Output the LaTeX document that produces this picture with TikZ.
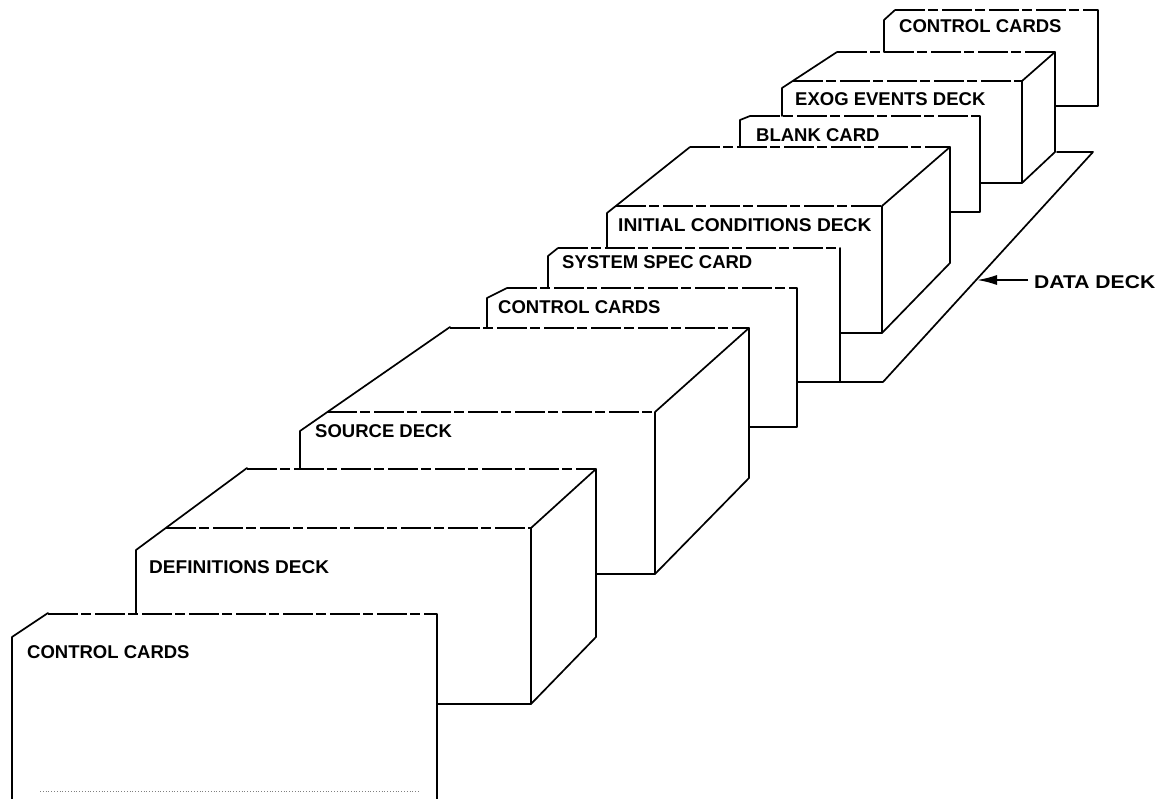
\documentclass[tikz,border=0pt]{standalone}
\usepackage{fontspec}
\setmainfont{Liberation Sans}
\usetikzlibrary{arrows.meta}
\begin{document}
\begin{tikzpicture}[x=1pt,y=-1pt,
  edge/.style={line width=1.7pt, line join=round, line cap=round},
  broken/.style={line width=1.4pt, dash pattern=on 30pt off 3pt on 10pt off 4pt},
  lbl/.style={anchor=west, inner sep=0pt, font=\fontsize{18.5}{18.5}\selectfont\bfseries}]
\useasboundingbox (0,0) rectangle (1165,799);

% front control cards
\draw[edge] (12,799) -- (12,637) -- (48,613);
\draw[broken] (48,614) -- (437,614);
\draw[edge] (437,614) -- (437,799);
\draw[gray, dotted, line width=0.8pt] (40,791) -- (420,791);
\node[lbl] (cc1) at (27,652) {CONTROL CARDS};

% definitions deck
\draw[edge] (136,614) -- (136,550) -- (247,468);
\draw[broken] (247,469) -- (596,469);
\draw[broken] (166,528) -- (531,528);
\draw[edge] (596,469) -- (531,528) -- (531,704) -- (596,637) -- cycle;
\draw[edge] (437,704) -- (531,704);
\node[lbl] (defs) at (149,567) {\scalebox{1.03}[1]{DEFINITIONS DECK}};

% source deck
\draw[edge] (300,469) -- (300,431) -- (450,327);
\draw[broken] (450,328) -- (749,328);
\draw[broken] (327,412) -- (655,412);
\draw[edge] (749,328) -- (655,412) -- (655,574) -- (749,478) -- cycle;
\draw[edge] (596,574) -- (655,574);
\node[lbl] (src) at (315,431) {SOURCE DECK};

% control cards (middle)
\draw[edge] (487,328) -- (487,298) -- (507,288);
\draw[broken] (507,288) -- (797,288);
\draw[edge] (797,288) -- (797,427) -- (749,427);
\node[lbl] (cc2) at (498,307) {CONTROL CARDS};

% system spec card
\draw[edge] (548,288) -- (548,256) -- (558,248);
\draw[broken] (558,248) -- (840,248);
\draw[edge] (840,248) -- (840,382) -- (797,382);
\node[lbl] (sys) at (562,262) {SYSTEM SPEC CARD};

% initial conditions deck
\draw[edge] (607,248) -- (607,213) -- (690,147);
\draw[broken] (690,147) -- (950,147);
\draw[broken] (616,206) -- (882,206);
\draw[edge] (950,147) -- (882,206) -- (882,333) -- (950,263) -- cycle;
\draw[edge] (840,333) -- (882,333);
\node[lbl] (ic) at (618,225) {\scalebox{1.04}[1]{INITIAL CONDITIONS DECK}};

% data deck platform
\draw[edge] (840,382) -- (883,382) -- (1093,152) -- (1057,152);

% blank card
\draw[edge] (740,147) -- (740,120) -- (750,116);
\draw[broken] (750,116) -- (980,116);
\draw[edge] (980,116) -- (980,212) -- (950,212);
\node[lbl] (blank) at (756,135) {BLANK CARD};

% exog events deck
\draw[edge] (782,116) -- (782,88) -- (837,52);
\draw[broken] (837,52) -- (1055,52);
\draw[broken] (793,81) -- (1022,81);
\draw[edge] (1055,52) -- (1022,81) -- (1022,183) -- (1055,152) -- cycle;
\draw[edge] (980,183) -- (1022,183);
\node[lbl] (exog) at (795,99) {EXOG EVENTS DECK};

% top control cards
\draw[edge] (884,52) -- (884,20) -- (895,10);
\draw[broken] (895,10) -- (1098,10);
\draw[edge] (1098,10) -- (1098,106) -- (1055,106);
\node[lbl] (cc3) at (899,26) {CONTROL CARDS};

% data deck label and arrow
\node[lbl] (dd) at (1034,282) {\scalebox{1.14}[1]{DATA DECK}};
\coordinate (ddtip) at (977,280);
\draw[line width=1.8pt, -{Latex[length=20pt,width=10pt]}] ([xshift=-6pt]dd.west |- ddtip) -- (ddtip);
\end{tikzpicture}
\end{document}
